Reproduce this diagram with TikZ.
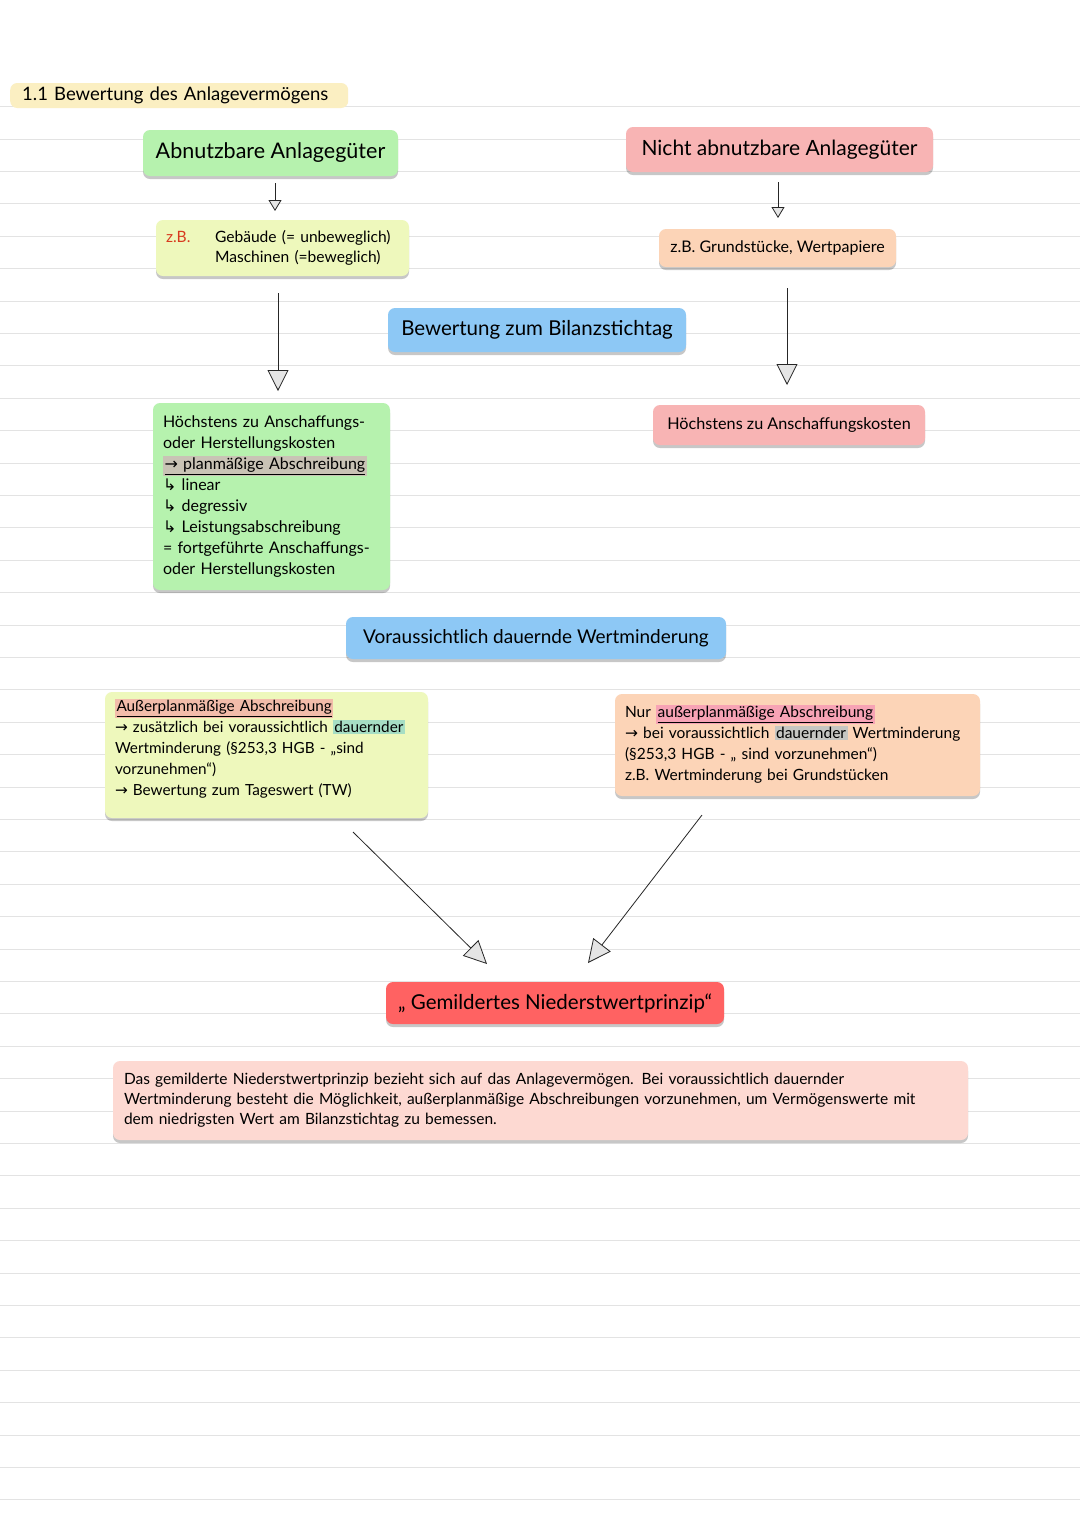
\documentclass[tikz,border=0pt]{standalone}
\usepackage{fontspec}
\setmainfont{Lato}
\newfontfamily\symf{DejaVu Sans}
\usetikzlibrary{arrows.meta,shadows}
\definecolor{cT}{HTML}{FBEFC2}
\definecolor{cGreen}{HTML}{B6F2AE}
\definecolor{cPink}{HTML}{F8B4B4}
\definecolor{cLime}{HTML}{EEF8BC}
\definecolor{cPeach}{HTML}{FCD4B7}
\definecolor{cBlue}{HTML}{8DC8F5}
\definecolor{cRed}{HTML}{FF6262}
\definecolor{cRose}{HTML}{FDD9D2}
\definecolor{zbred}{HTML}{D83A1E}
\definecolor{hlGray}{HTML}{C9C3B5}
\definecolor{hlPinkA}{HTML}{F2BCAA}
\definecolor{hlGreen}{HTML}{A6DEC4}
\definecolor{hlPinkB}{HTML}{F7A3B5}
\definecolor{hlGrayB}{HTML}{C6C6C2}
\newcommand\fsz[2]{\fontsize{#1}{#2}\selectfont}
\newcommand\hlt[2]{\begingroup\setlength{\fboxsep}{1.5pt}\smash{\colorbox{#1}{#2}}\endgroup}
\newcommand\rarr{{\symf →}}
\begin{document}
\begin{tikzpicture}[x=1pt,y=-1pt,
  ruled/.style={draw=black!11, line width=1.1pt},
  card/.style={rounded corners=7pt, align=center, inner sep=0pt,
    drop shadow={shadow xshift=0pt,shadow yshift=-3pt,opacity=0.22,fill=black}},
  leftcard/.style={card, align=left, inner xsep=10pt},
  smallarr/.style={draw=black!85, line width=0.8pt, -{Triangle[fill=black!10, width=13pt, length=11pt]}},
  bigarr/.style={draw=black!85, line width=0.8pt, -{Triangle[fill=black!10, width=21pt, length=21pt]}},
  diagarr/.style={draw=black!85, line width=0.8pt, -{Triangle[fill=black!10, width=22pt, length=23pt]}},
]
\useasboundingbox (0,0) rectangle (1080,1527);
\fill[white] (0,0) rectangle (1080,1527);
\foreach \i in {0,...,43} \draw[ruled] (0,106.7+32.4*\i) -- (1080,106.7+32.4*\i);

% title
\node[fill=cT, rounded corners=7pt, minimum height=25pt, inner xsep=12pt, inner ysep=0pt,
  text width=314pt, align=left, anchor=west, font=\fsz{18.5}{22}] (title) at (10,95.5)
  {\mbox{1.1 Bewertung des Anlagevermögens}};

% top boxes
\node[card, fill=cGreen, minimum width=255pt, minimum height=46pt, font=\fsz{21.5}{25}] (abn) at (270.5,153) {Abnutzbare Anlagegüter};
\node[card, fill=cPink, minimum width=307pt, minimum height=45pt, font=\fsz{21}{25}] (nabn) at (779.5,149.5) {Nicht abnutzbare Anlagegüter};

\node[leftcard, fill=cLime, text width=233pt, minimum height=56pt, font=\fsz{15.6}{19.5}] (zb1) at (282.5,248)
  {\makebox[49pt][l]{\textcolor{zbred}{z.B.}}Gebäude (= unbeweglich)\\\hspace*{49pt}Maschinen (=beweglich)};
\node[card, fill=cPeach, minimum width=237pt, minimum height=38pt, font=\fsz{16}{18}] (zb2) at (777.5,248) {z.B. Grundstücke, Wertpapiere};

\node[card, fill=cBlue, minimum width=298pt, minimum height=44pt, font=\fsz{20.5}{24}] (stichtag) at (537,330) {Bewertung zum Bilanzstichtag};

% middle boxes
\node[leftcard, fill=cGreen, text width=217pt, minimum height=187pt, font=\fsz{16}{21}] (hk) at (271.5,496.5)
  {Höchstens zu Anschaffungs-\\
   oder Herstellungskosten\\
   \hlt{hlGray}{\underline{\rarr\ planmäßige Abschreibung}}\\
   {\symf ↳} linear\\
   {\symf ↳} degressiv\\
   {\symf ↳} Leistungsabschreibung\\
   = fortgeführte Anschaffungs-\\
   oder Herstellungskosten};
\node[card, fill=cPink, minimum width=272pt, minimum height=40pt, font=\fsz{16.2}{18}] (ak) at (789,425) {Höchstens zu Anschaffungskosten};

\node[card, fill=cBlue, minimum width=380pt, minimum height=42pt, font=\fsz{19}{22}] (dauernd) at (536,638) {Voraussichtlich dauernde Wertminderung};

\node[leftcard, fill=cLime, text width=303pt, minimum height=126pt, font=\fsz{15.3}{21}] (ausserA) at (266.5,755)
  {\hlt{hlPinkA}{\underline{Außerplanmäßige Abschreibung}}\\
   \mbox{\rarr\ zusätzlich bei voraussichtlich \hlt{hlGreen}{dauernder}}\\
   \mbox{Wertminderung (§253,3 HGB - „sind}\\
   vorzunehmen“)\\
   \rarr\ Bewertung zum Tageswert (TW)};
\node[leftcard, fill=cPeach, text width=345pt, minimum height=102pt, font=\fsz{15.5}{21}] (ausserB) at (797.5,745)
  {Nur \hlt{hlPinkB}{\underline{außerplanmäßige Abschreibung}}\\
   \mbox{\rarr\ bei voraussichtlich \hlt{hlGrayB}{dauernder} Wertminderung}\\
   (§253,3 HGB - „ sind vorzunehmen“)\\
   z.B. Wertminderung bei Grundstücken};

% bottom
\node[card, fill=cRed, minimum width=338pt, minimum height=42pt, font=\fsz{20.5}{24}] (nwp) at (555,1003) {„ Gemildertes Niederstwertprinzip“};
\node[card, align=left, inner xsep=11pt, fill=cRose, text width=833pt, minimum height=79pt, font=\fsz{15.5}{20}] (def) at (540.5,1100.5)
  {\mbox{Das gemilderte Niederstwertprinzip bezieht sich auf das Anlagevermögen. Bei voraussichtlich dauernder}\\
   \mbox{Wertminderung besteht die Möglichkeit, außerplanmäßige Abschreibungen vorzunehmen, um Vermögenswerte mit}\\
   dem niedrigsten Wert am Bilanzstichtag zu bemessen.};

% connectors
\coordinate (a1s) at (275,183); \coordinate (a1e) at (275,211);
\coordinate (b1s) at (778,182); \coordinate (b1e) at (778,218);
\coordinate (c1s) at (278,293); \coordinate (c1e) at (278,391);
\coordinate (d1s) at (787,288); \coordinate (d1e) at (787,385);
\coordinate (e1s) at (353,832); \coordinate (e1e) at (487,964);
\coordinate (f1s) at (702,815); \coordinate (f1e) at (588,963);
\draw[smallarr] (a1s) -- (a1e);
\draw[smallarr] (b1s) -- (b1e);
\draw[bigarr] (c1s) -- (c1e);
\draw[bigarr] (d1s) -- (d1e);
\draw[diagarr] (e1s) -- (e1e);
\draw[diagarr] (f1s) -- (f1e);
\end{tikzpicture}
\end{document}
